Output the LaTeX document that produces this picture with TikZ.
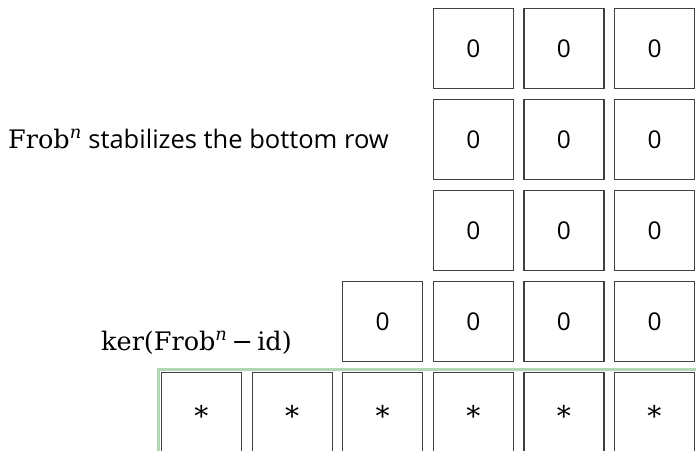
\documentclass[tikz,border=0pt]{standalone}
\usepackage{fontspec}
\setmainfont{Open Sans}
\newfontfamily\mserif{DejaVu Serif}
\newcommand{\frobn}{{\mserif Frob\textsuperscript{\itshape n}}}
\begin{document}
\begin{tikzpicture}[x=1pt,y=-1pt,
  cell/.style={draw=black!75,line width=1.2pt,minimum width=80pt,minimum height=80pt,
    inner sep=0pt,font=\fontsize{24.5}{28}\selectfont},
  star/.style={cell,font=\mserif\fontsize{28}{30}\selectfont},
  lbl/.style={inner sep=0pt,font=\fontsize{25.5}{30}\selectfont},
  rowframe/.style={draw=green!45!black!30,line width=2.6pt}]
\useasboundingbox (0,0) rectangle (696,450);
% frame around the bottom row
\draw[rowframe] (158.5,369.5) rectangle (720,480);
% zero cells in the upper rows
\foreach \r in {0,1,2}{
  \foreach \c in {3,4,5}{
    \node[cell] (z\r\c) at ({201.5+90.6*\c},{48.5+91*\r}) {0};
  }
}
\foreach \c in {2,3,4,5}{
  \node[cell] (z3\c) at ({201.5+90.6*\c},{48.5+91*3}) {0};
}
% bottom row of unknown entries
\foreach \c in {0,...,5}{
  \node[star] (s\c) at ({201.5+90.6*\c},{48.5+91*4}) {∗};
}
% labels
\node[lbl,anchor=base west] (stab) at (8,148) {\frobn{} stabilizes the bottom row};
\node[lbl,anchor=base west,font=\mserif\fontsize{25.5}{30}\selectfont] (ker) at (101,350)
  {ker(Frob\textsuperscript{\itshape n}\,−\,id)};
\end{tikzpicture}
\end{document}
